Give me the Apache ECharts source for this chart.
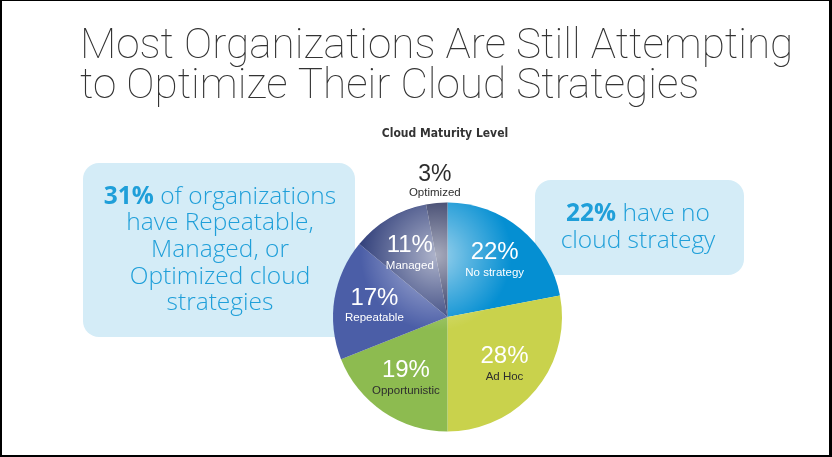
<!DOCTYPE html>
<html>
<head>
<meta charset="utf-8">
<title>Cloud Maturity Level</title>
<script src="https://cdn.jsdelivr.net/npm/echarts@6/dist/echarts.min.js"></script>
<style>
  html, body { margin: 0; padding: 0; background: #fff; }
  #chart { position: absolute; left: 0; top: 0; width: 832px; height: 457px; }
  #frame {
    position: absolute; left: 0; top: 0; width: 832px; height: 457px;
    box-sizing: border-box; pointer-events: none;
    border-left: 2px solid #000; border-top: 1px solid #000;
    border-right: 3px solid #000; border-bottom: 2px solid #000;
  }
</style>
</head>
<body>
<div id="chart"></div>
<div id="frame"></div>
<script>
// maturity levels, clockwise from 12 o'clock
var categories = ['No strategy', 'Ad Hoc', 'Opportunistic', 'Repeatable', 'Managed', 'Optimized'];
var shares = [22, 28, 19, 17, 11, 3];
var sliceColors = ['#058fd2', '#c9d24c', '#8dbb50', '#4b5ea7', '#35437d', '#272f5b'];
var darkNames = ['Ad Hoc', 'Opportunistic', 'Optimized'];
var outsideLabels = ['Optimized'];

var titleLines = ['Most Organizations Are Still Attempting', 'to Optimize Their Cloud Strategies'];
var leftNote = ['{b|31%} of organizations', 'have Repeatable,', 'Managed, or', 'Optimized cloud', 'strategies'];
var rightNote = ['{b|22%} have no', 'cloud strategy'];

var dom = document.getElementById('chart');
var myChart = echarts.init(dom, null, { renderer: 'canvas' });

var center = [447.5, 317];
var radius = 114.5;

var pieData = categories.map(function (name, i) {
    return { name: name, value: shares[i], itemStyle: { color: sliceColors[i] } };
});

var labelFormatter = function (p) {
    var dark = darkNames.indexOf(p.name) >= 0;
    var inner = outsideLabels.indexOf(p.name) < 0;
    return '{' + (inner ? 'p' : 'po') + '|' + p.value + '%}\n{' + (dark ? 'd' : 'n') + '|' + p.name + '}';
};

var labelRich = {
    p: { fontFamily: 'Liberation Sans', fontSize: 24, color: '#fff', lineHeight: 25 },
    po: { fontFamily: 'Liberation Sans', fontSize: 23, color: '#2e2e2e', lineHeight: 21 },
    n: { fontFamily: 'Liberation Sans', fontSize: 11.5, color: '#fff', lineHeight: 15 },
    d: { fontFamily: 'Liberation Sans', fontSize: 11.5, color: '#2e2e2e', lineHeight: 15 }
};

var noteText = { fontFamily: 'Open Sans', fontWeight: 300, fontSize: 24.5, fill: '#1f9fd9' };
var noteBold = { fontFamily: 'Open Sans', fontWeight: 700, fontSize: 24.5, color: '#0a89c9' };

var option = {
    backgroundColor: '#fff',
    animation: false,
    title: {
        text: titleLines.join('\n'),
        left: 80,
        top: 27,
        padding: 0,
        textStyle: {
            fontFamily: 'Roboto',
            fontWeight: 100,
            fontSize: 42.3,
            lineHeight: 40,
            color: '#333'
        }
    },
    graphic: [
        {
            type: 'text', x: 445, y: 134, z: 1,
            style: {
                text: 'Cloud Maturity Level', align: 'center', verticalAlign: 'middle',
                fontFamily: 'Liberation Sans Narrow, DejaVu Sans Condensed, sans-serif',
                fontWeight: 'bold', fontSize: 12, fill: '#333'
            }
        },
        {
            type: 'rect', z: 0,
            shape: { x: 83, y: 163, width: 272, height: 174, r: 16 },
            style: { fill: '#d4ecf7' }
        },
        {
            type: 'text', z: 1, x: 220, y: 250,
            style: {
                text: leftNote.join('\n'), align: 'center', verticalAlign: 'middle',
                lineHeight: 26.7, fontFamily: noteText.fontFamily, fontWeight: noteText.fontWeight,
                fontSize: noteText.fontSize, fill: noteText.fill,
                rich: { b: noteBold }
            }
        },
        {
            type: 'rect', z: 0,
            shape: { x: 535, y: 180, width: 209, height: 95, r: 16 },
            style: { fill: '#d4ecf7' }
        },
        {
            type: 'text', z: 1, x: 638, y: 228,
            style: {
                text: rightNote.join('\n'), align: 'center', verticalAlign: 'middle',
                lineHeight: 27, fontFamily: noteText.fontFamily, fontWeight: noteText.fontWeight,
                fontSize: noteText.fontSize, fill: noteText.fill,
                rich: { b: noteBold }
            }
        }
    ],
    series: [
        {
            name: 'Cloud Maturity Level',
            type: 'pie',
            center: center,
            radius: radius,
            startAngle: 90,
            clockwise: true,
            silent: true,
            z: 2,
            itemStyle: { borderWidth: 0 },
            label: { show: false },
            labelLine: { show: false },
            data: pieData
        },
        {
            // glossy highlight over the upper half
            type: 'pie',
            center: center,
            radius: radius,
            silent: true,
            z: 3,
            label: { show: false },
            labelLine: { show: false },
            itemStyle: {
                borderWidth: 0,
                color: {
                    type: 'radial', x: 0.45, y: 0.23, r: 0.33,
                    colorStops: [
                        { offset: 0, color: 'rgba(255,255,255,0.6)' },
                        { offset: 0.45, color: 'rgba(255,255,255,0.32)' },
                        { offset: 1, color: 'rgba(255,255,255,0)' }
                    ]
                }
            },
            data: [{ value: 1, name: '' }]
        },
        {
            // labels inside the slices
            type: 'pie',
            center: center,
            radius: 142,
            startAngle: 90,
            silent: true,
            z: 4,
            itemStyle: { color: 'rgba(0,0,0,0)', borderWidth: 0 },
            label: { show: true, position: 'inside', formatter: labelFormatter, rich: labelRich },
            labelLine: { show: false },
            data: categories.map(function (name, i) {
                return { name: name, value: shares[i], label: { show: outsideLabels.indexOf(name) < 0 } };
            })
        },
        {
            // label above the pie for the thin slice
            type: 'pie',
            center: center,
            radius: 264,
            startAngle: 90,
            silent: true,
            z: 4,
            itemStyle: { color: 'rgba(0,0,0,0)', borderWidth: 0 },
            label: { show: true, position: 'inside', formatter: labelFormatter, rich: labelRich },
            labelLine: { show: false },
            data: categories.map(function (name, i) {
                return { name: name, value: shares[i], label: { show: outsideLabels.indexOf(name) >= 0 } };
            })
        }
    ]
};

if (option && typeof option === 'object') {
    myChart.setOption(option, true);
}
</script>
</body>
</html>
